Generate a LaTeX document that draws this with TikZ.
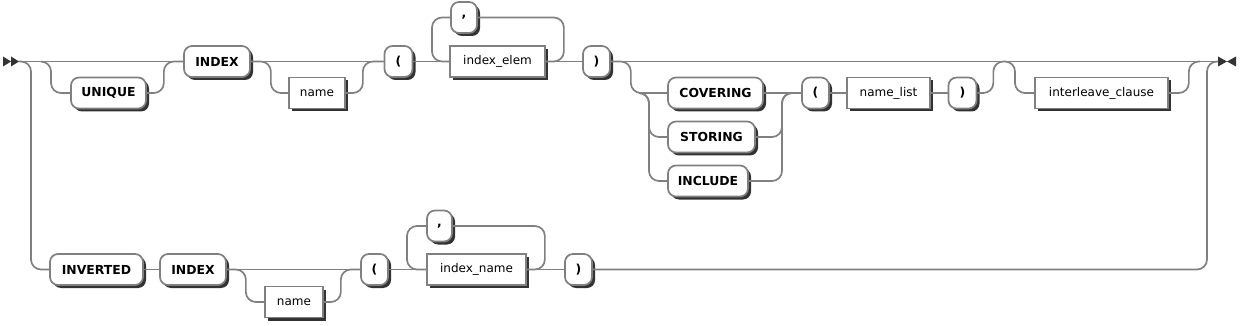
\documentclass[tikz,border=0pt]{standalone}
\usepackage{fontspec}
\setmainfont{DejaVu Sans}
\usetikzlibrary{shadows}
\definecolor{railgray}{HTML}{808080}
\definecolor{shadowc}{HTML}{333333}
\begin{document}
\begin{tikzpicture}[x=1pt,y=-1pt,
  rail/.style={draw=railgray,line width=1.7pt,rounded corners=10pt},
  boxbase/.style={draw=railgray,line width=1.7pt,fill=white,inner sep=0pt,minimum height=31pt,
    drop shadow={shadow xshift=3pt,shadow yshift=-3pt,fill=shadowc,opacity=1}},
  term/.style={boxbase,rounded corners=8pt,font=\fontsize{12.4}{14}\selectfont\bfseries},
  nonterm/.style={boxbase,font=\fontsize{12}{14}\selectfont},
  tip/.style={fill=shadowc}]
\useasboundingbox (0,0) rectangle (1245,326);
\fill[white] (0,0) rectangle (1245,326);

% start / end markers
\fill[tip] (3,56.5) -- (11,61.5) -- (3,66.5) -- cycle;
\fill[tip] (11,56.5) -- (19,61.5) -- (11,66.5) -- cycle;
\fill[tip] (1218,56.5) -- (1227,61.5) -- (1218,66.5) -- cycle;
\fill[tip] (1236,56.5) -- (1227,61.5) -- (1236,66.5) -- cycle;
\coordinate (st) at (19,61.5);
\coordinate (en) at (1218,61.5);

% ---------- upper path nodes ----------
\node[term,minimum width=75] (UNIQUE) at (108.5,93) {UNIQUE};
\node[term,minimum width=66] (INDEX) at (217,61.5) {INDEX};
\node[nonterm,minimum width=56] (name1) at (317,93) {name};
\node[term,minimum width=28] (lp1) at (398.5,61.5) {(};
\node[term,minimum width=26] (comma1) at (464,17.5) {,};
\node[nonterm,minimum width=95] (ie) at (497.5,61.5) {index\_elem};
\node[term,minimum width=27] (rp1) at (596.5,61.5) {)};
\node[term,minimum width=95] (COVERING) at (715.5,93) {COVERING};
\node[term,minimum width=87] (STORING) at (711.5,137) {STORING};
\node[term,minimum width=80] (INCLUDE) at (708,181) {INCLUDE};
\node[term,minimum width=27] (lp2) at (815.5,93) {(};
\node[nonterm,minimum width=83] (nl) at (888.5,93) {name\_list};
\node[term,minimum width=28] (rp2) at (962.5,93) {)};
\node[nonterm,minimum width=133] (il) at (1101.5,93) {interleave\_clause};

% ---------- lower path nodes ----------
\node[term,minimum width=93] (INVERTED) at (96.5,269.5) {INVERTED};
\node[term,minimum width=66] (INDEX2) at (193,269.5) {INDEX};
\node[nonterm,minimum width=58] (name2) at (294,302) {name};
\node[term,minimum width=27] (lp3) at (374.5,269.5) {(};
\node[term,minimum width=25] (comma2) at (439.5,226) {,};
\node[nonterm,minimum width=99] (in) at (476.5,269.5) {index\_name};
\node[term,minimum width=27] (rp3) at (578.5,269.5) {)};

% junction coordinates
\coordinate (u1) at (41,61.5);
\coordinate (c1) at (639,93);
\coordinate (j1) at (1005,61.5);
\coordinate (L1) at (432,61.5);
\coordinate (L2) at (407,269.5);
\coordinate (R1) at (1207,61.5);

% main line
\draw[rail] (st) -- (INDEX.west);
\draw[rail] (INDEX.east) -- (lp1.west);
\draw[rail] (lp1.east) -- (ie.west);
\draw[rail] (ie.east) -- (rp1.west);
\draw[rail] (rp1.east) -- (en);
% UNIQUE optional
\draw[rail] (u1) -- ++(10,0) |- (UNIQUE.west);
\draw[rail] (UNIQUE.east) -- ++(17,0) |- (INDEX.west);
% name optional
\draw[rail] (INDEX.east) -- ++(20,0) |- (name1.west);
\draw[rail] (name1.east) -- ++(17,0) |- (lp1.west);
% index_elem loop
\draw[rail] (ie.east) -- ++(18,0) |- (comma1.east);
\draw[rail] (comma1.west) -| (L1) -- (ie.west);
% COVERING / STORING / INCLUDE
\draw[rail] (rp1.east) -- ++(20,0) |- (COVERING.west);
\draw[rail] (c1) -- ++(10,0) |- (STORING.west);
\draw[rail] (c1) -- ++(10,0) |- (INCLUDE.west);
\draw[rail] (COVERING.east) -- (lp2.west);
\draw[rail] (STORING.east) -| (782,93) -- (lp2.west);
\draw[rail] (INCLUDE.east) -| (782,93) -- (lp2.west);
\draw[rail] (lp2.east) -- (nl.west);
\draw[rail] (nl.east) -- (rp2.west);
\draw[rail] (rp2.east) -- ++(16,0) |- (j1);
% interleave optional
\draw[rail] (j1) -- ++(10,0) |- (il.west);
\draw[rail] (il.east) -- ++(20,0) |- (1200,61.5);
% lower path
\draw[rail] (st) -- ++(12,0) |- (INVERTED.west);
\draw[rail] (INVERTED.east) -- (INDEX2.west);
\draw[rail] (INDEX2.east) -- (lp3.west);
\draw[rail] (INDEX2.east) -- ++(19,0) |- (name2.west);
\draw[rail] (name2.east) -- ++(17,0) |- (lp3.west);
\draw[rail] (lp3.east) -- (in.west);
\draw[rail] (in.east) -- ++(18,0) |- (comma2.east);
\draw[rail] (comma2.west) -| (L2) -- (in.west);
\draw[rail] (in.east) -- (rp3.west);
\draw[rail] (rp3.east) -| (R1) -- (en);
\end{tikzpicture}
\end{document}
